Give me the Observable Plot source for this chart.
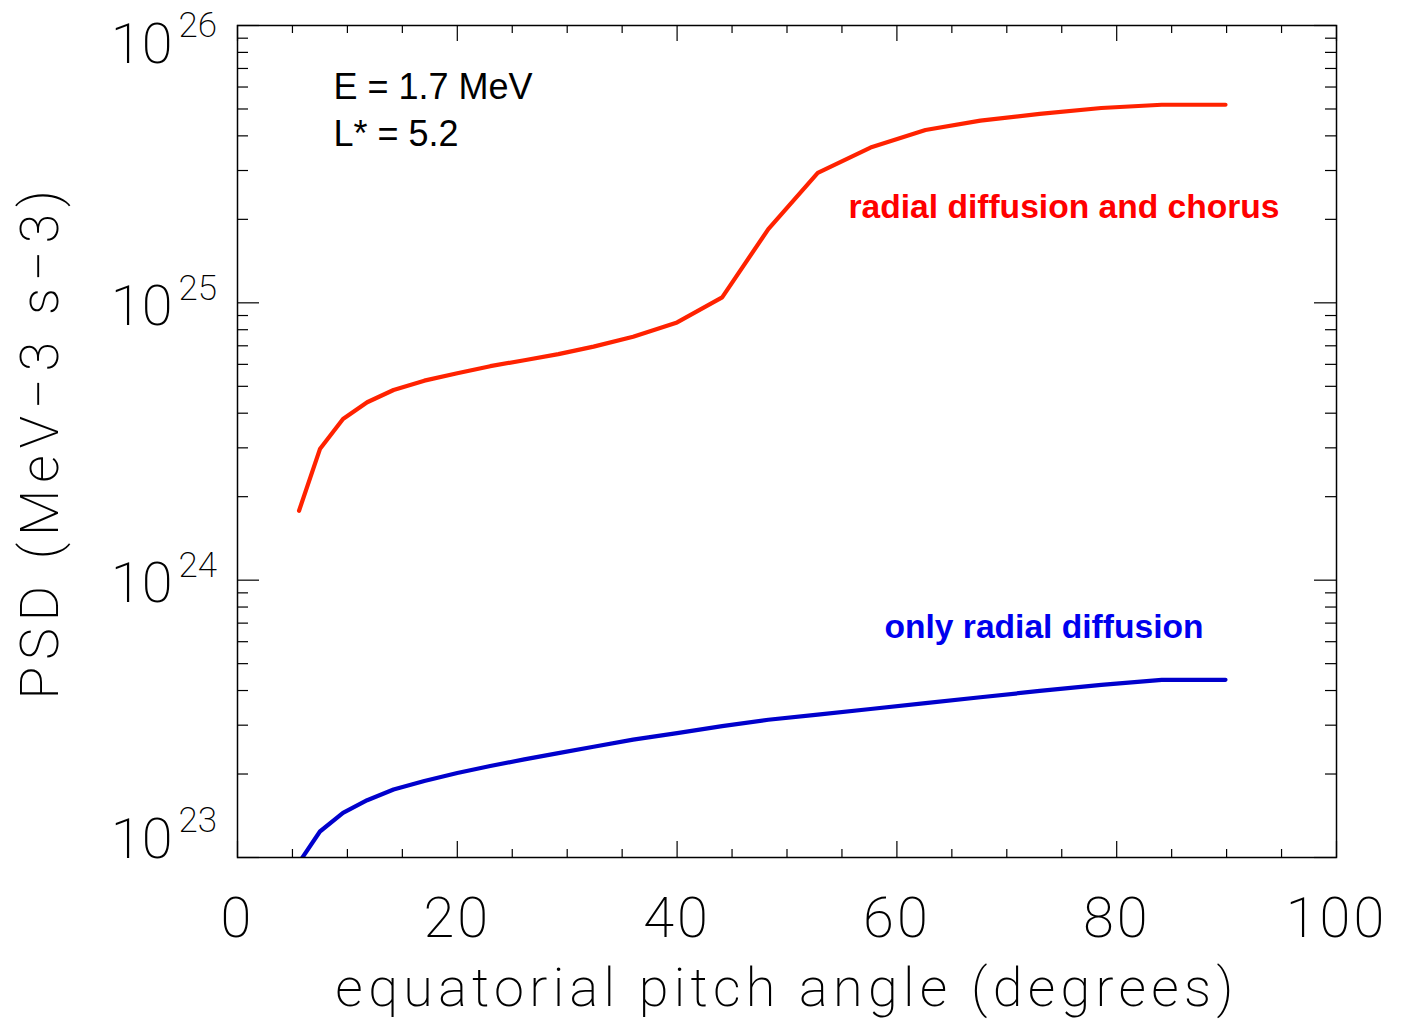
<!DOCTYPE html>
<html>
<head>
<meta charset="utf-8">
<script src="https://cdn.jsdelivr.net/npm/d3@7"></script>
<script src="https://cdn.jsdelivr.net/npm/@observablehq/plot@0.6"></script>
<style>
  html, body { margin: 0; padding: 0; background: #fff; }
  #chart svg { display: block; }
</style>
</head>
<body>
<div id="chart"></div>
<script>
// Equatorial pitch angle grid (degrees)
const pitchAngle = [5.6, 7.5, 9.6, 11.8, 14.2, 17.0, 20.0, 23.0, 26.1, 29.2, 32.4, 36.0,
  40.0, 44.1, 48.3, 52.8, 57.6, 62.6, 67.6, 73.0, 78.6, 84.1, 89.9];

// Phase space density, radial diffusion and chorus (MeV^-3 s^-3)
const psdChorus = [1.78e24, 2.97e24, 3.81e24, 4.38e24, 4.85e24, 5.24e24, 5.57e24, 5.91e24,
  6.21e24, 6.53e24, 6.95e24, 7.55e24, 8.50e24, 1.046e25, 1.845e25, 2.94e25, 3.63e25,
  4.20e25, 4.54e25, 4.80e25, 5.04e25, 5.18e25, 5.18e25];

// Phase space density, only radial diffusion (MeV^-3 s^-3)
const psdRadial = [9.59e22, 1.241e23, 1.449e23, 1.609e23, 1.758e23, 1.887e23, 2.016e23,
  2.137e23, 2.259e23, 2.378e23, 2.507e23, 2.662e23, 2.810e23, 2.976e23, 3.138e23, 3.276e23,
  3.431e23, 3.601e23, 3.782e23, 3.986e23, 4.193e23, 4.371e23, 4.371e23];

// Axis ticks
const xMajorTicks = [0, 20, 40, 60, 80, 100];
const xMinorTicks = [5, 10, 15, 25, 30, 35, 45, 50, 55, 65, 70, 75, 85, 90, 95];
const yDecades = [1e23, 1e24, 1e25, 1e26];
const yMinorTicks = [1e23, 1e24, 1e25].flatMap(d => [2, 3, 4, 5, 6, 7, 8, 9].map(m => m * d));

// Text
const xLabel = "equatorial pitch angle (degrees)";
const yLabel = "PSD (MeV\u22123 s\u22123)";
const energyText = "E = 1.7 MeV";
const lstarText = "L* = 5.2";
const chorusLabel = "radial diffusion and chorus";
const radialLabel = "only radial diffusion";

const rows = (ys) => pitchAngle.map((x, i) => ({x, y: ys[i]}));

const width = 1403, height = 1020;
const margin = {top: 25, right: 67, bottom: 163, left: 237};
const innerW = width - margin.left - margin.right;
const innerH = height - margin.top - margin.bottom;

const axisFont = "Roboto, 'DejaVu Sans', sans-serif";
const axisWeight = 200;
const annoFont = "'Liberation Sans', Arial, Helvetica, sans-serif";
const tickStyle = {stroke: "black", strokeWidth: 1.2};
const bigText = {fontSize: 56, fontFamily: axisFont, fontWeight: axisWeight, fill: "black"};
const supText = {fontSize: 35, fontFamily: axisFont, fontWeight: axisWeight, fill: "black"};
const expOf = d => String(Math.round(Math.log10(d)));

// "10" plus raised exponent for a group of decades, shifted by the given offsets
const decadeLabels = (decades, dyBase, dyExp) => [
  Plot.text(decades, {y: d => d, frameAnchor: "left", textAnchor: "end", lineAnchor: "middle",
    dx: -65, dy: dyBase, text: () => "10", ...bigText}),
  Plot.text(decades, {y: d => d, frameAnchor: "left", textAnchor: "start", lineAnchor: "middle",
    dx: -59, dy: dyExp, text: expOf, ...supText})
];

const chart = Plot.plot({
  width, height,
  marginTop: margin.top, marginRight: margin.right,
  marginBottom: margin.bottom, marginLeft: margin.left,
  style: {background: "white", overflow: "visible"},
  x: {domain: [0, 100], axis: null},
  y: {type: "log", domain: [1e23, 1e26], axis: null},
  marks: [
    // curves
    Plot.line(rows(psdChorus), {x: "x", y: "y", stroke: "#ff2200", strokeWidth: 4.2, clip: true}),
    Plot.line(rows(psdRadial), {x: "x", y: "y", stroke: "#0000cc", strokeWidth: 4.2, clip: true}),

    // inward ticks on all four sides
    Plot.ruleX(xMinorTicks, {x: d => d, insetTop: innerH - 8, ...tickStyle}),
    Plot.ruleX(xMinorTicks, {x: d => d, insetBottom: innerH - 8, ...tickStyle}),
    Plot.ruleX(xMajorTicks, {x: d => d, insetTop: innerH - 16, ...tickStyle}),
    Plot.ruleX(xMajorTicks, {x: d => d, insetBottom: innerH - 16, ...tickStyle}),
    Plot.ruleY(yMinorTicks, {y: d => d, insetRight: innerW - 11, ...tickStyle}),
    Plot.ruleY(yMinorTicks, {y: d => d, insetLeft: innerW - 11, ...tickStyle}),
    Plot.ruleY(yDecades, {y: d => d, insetRight: innerW - 22, ...tickStyle}),
    Plot.ruleY(yDecades, {y: d => d, insetLeft: innerW - 22, ...tickStyle}),
    Plot.frame({stroke: "black", strokeWidth: 1.5}),

    // x tick labels
    Plot.text(xMajorTicks, {
      x: d => d, frameAnchor: "bottom", lineAnchor: "middle", textAnchor: "middle",
      dy: 62, text: d => String(d), ...bigText
    }),

    // y tick labels (end labels kept inside the axis span)
    ...decadeLabels(yDecades.filter(d => d === 1e26), 20, 0),
    ...decadeLabels(yDecades.filter(d => d > 1e23 && d < 1e26), 4, -14),
    ...decadeLabels(yDecades.filter(d => d === 1e23), -17, -37),

    // axis titles
    Plot.text([xLabel], {
      frameAnchor: "bottom", lineAnchor: "bottom", textAnchor: "middle", dy: 148,
      text: d => d, fontSize: 54, fontFamily: axisFont, fontWeight: axisWeight, fill: "black"
    }),
    Plot.text([yLabel], {
      frameAnchor: "left", lineAnchor: "middle", textAnchor: "middle", dx: -197, rotate: -90,
      text: d => d, fontSize: 54, fontFamily: axisFont, fontWeight: axisWeight, fill: "black"
    }),

    // annotations
    Plot.text([energyText], {
      frameAnchor: "top-left", dx: 96, dy: 73, lineAnchor: "bottom", textAnchor: "start",
      text: d => d, fontSize: 36, fontFamily: annoFont, fill: "black"
    }),
    Plot.text([lstarText], {
      frameAnchor: "top-left", dx: 96, dy: 120, lineAnchor: "bottom", textAnchor: "start",
      text: d => d, fontSize: 36, fontFamily: annoFont, fill: "black"
    }),
    Plot.text([chorusLabel], {
      frameAnchor: "top-left", dx: 611, dy: 192, lineAnchor: "bottom", textAnchor: "start",
      text: d => d, fontSize: 33.6, fontWeight: "bold", fontFamily: annoFont, fill: "#ff0000"
    }),
    Plot.text([radialLabel], {
      frameAnchor: "top-left", dx: 647, dy: 612, lineAnchor: "bottom", textAnchor: "start",
      text: d => d, fontSize: 33.6, fontWeight: "bold", fontFamily: annoFont, fill: "#0000ee"
    })
  ]
});

// widen the letter spacing of the axis titles and tick numbers
const spacing = new Map([[xLabel, 5.3], [yLabel, 6.8], ...xMajorTicks.map(t => [String(t), 3])]);
d3.select(chart).selectAll("text").each(function() {
  const s = spacing.get(this.textContent);
  if (s != null) this.setAttribute("letter-spacing", s);
});

document.getElementById("chart").appendChild(chart);
</script>
</body>
</html>
